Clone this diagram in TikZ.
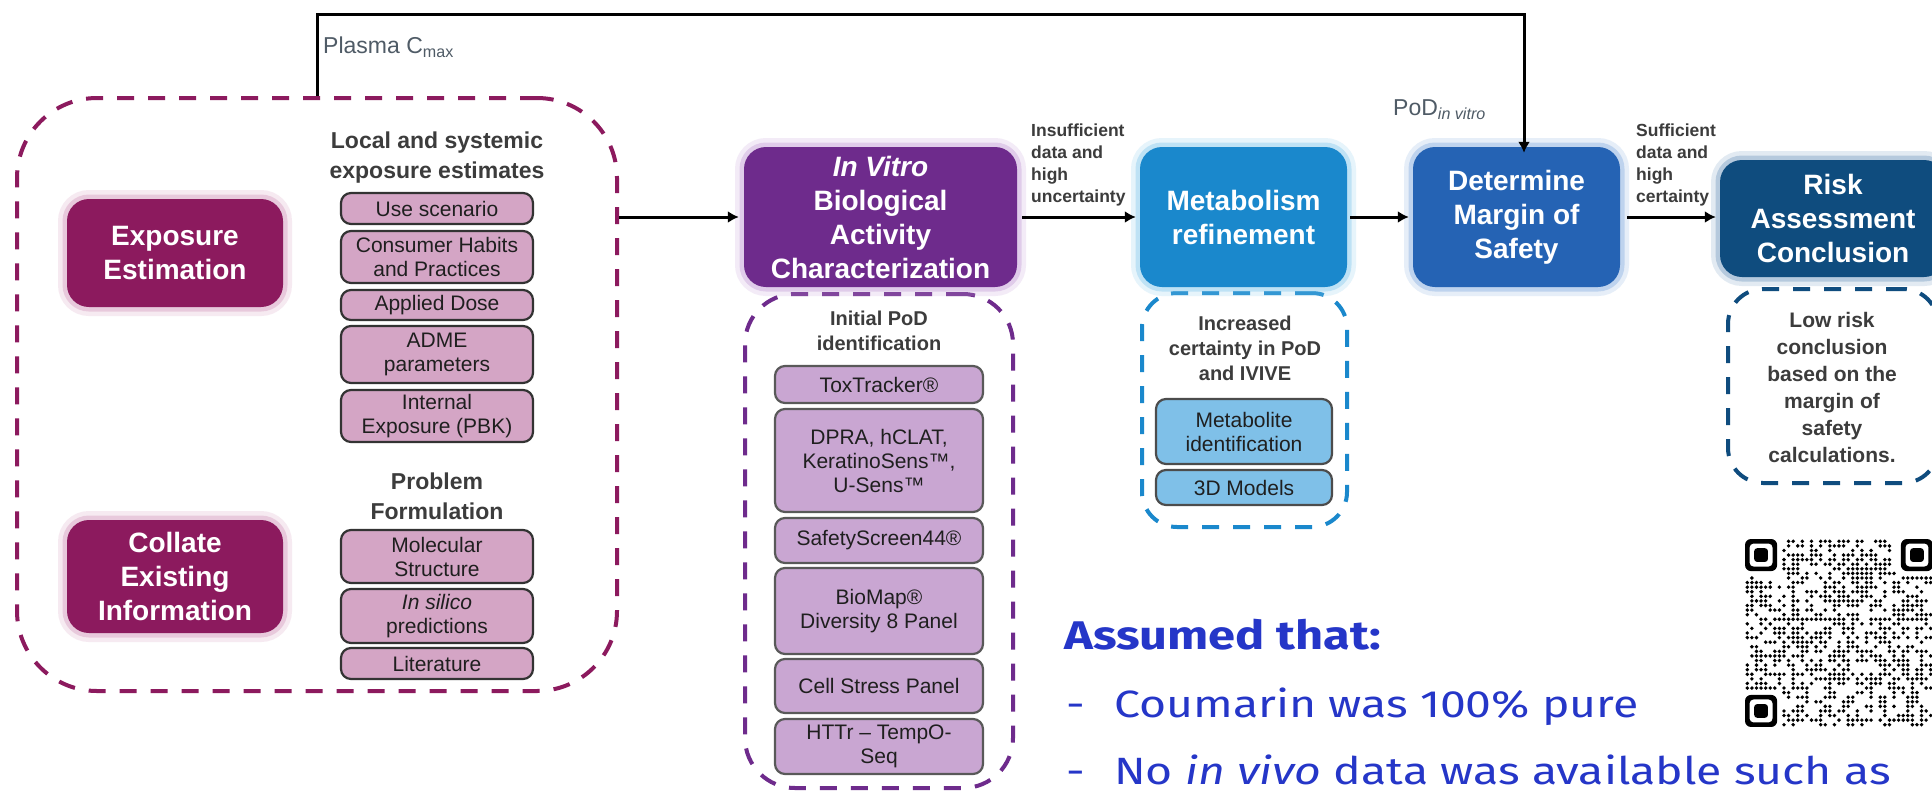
\documentclass[tikz,border=0pt]{standalone}
\usepackage{fontspec}
\setmainfont{Liberation Sans}
\newfontfamily\asf[FakeStretch=1.22]{Fira Sans}
\usetikzlibrary{arrows.meta}
\definecolor{expc}{HTML}{8C1A5E}
\definecolor{expg}{HTML}{D9A3C3}
\definecolor{pinkf}{HTML}{D4A5C5}
\definecolor{vitc}{HTML}{6E2B8C}
\definecolor{vitg}{HTML}{C9A8DB}
\definecolor{lavf}{HTML}{C9A6D2}
\definecolor{metc}{HTML}{1A88CC}
\definecolor{metg}{HTML}{8FCDEE}
\definecolor{metf}{HTML}{7FC0E8}
\definecolor{detc}{HTML}{2563B4}
\definecolor{detg}{HTML}{8FB4E3}
\definecolor{riskc}{HTML}{0F4C7E}
\definecolor{riskg}{HTML}{7FA3C4}
\definecolor{hdr}{HTML}{3C3C3C}
\definecolor{lbl}{HTML}{4F5B66}
\definecolor{asb}{HTML}{2536C8}
\begin{document}
\begin{tikzpicture}[x=1pt,y=-1pt,
  mbox/.style 2 args={rounded corners=22pt, fill=#1, text=white, align=center, inner sep=0pt,
    font=\bfseries\fontsize{28}{34}\selectfont,
    preaction={draw=#2, line width=18pt, opacity=0.22},
    preaction={draw=#2, line width=9pt, opacity=0.45}},
  subbox/.style={rounded corners=10pt, line width=2.2pt, align=center, inner sep=0pt,
    text=black!88, font=\fontsize{21}{24}\selectfont},
  subL/.style={subbox, draw=black!80, fill=pinkf, minimum width=192pt},
  subV/.style={subbox, draw=black!65, fill=lavf, minimum width=208pt},
  subM/.style={subbox, draw=black!70, fill=metf, minimum width=176pt},
  grp/.style={draw=#1, line width=4pt, dash pattern=on 17pt off 14pt, inner sep=0pt},
  hdrtxt/.style={text=hdr, align=center, inner sep=0pt, font=\bfseries\fontsize{23}{30}\selectfont},
  cond/.style={text=hdr, align=left, anchor=west, inner sep=0pt, font=\bfseries\fontsize{17.5}{22}\selectfont},
  note/.style={text=hdr, align=center, inner sep=0pt, font=\bfseries\fontsize{20}{25}\selectfont},
  flow/.style={text=lbl, anchor=west, inner sep=0pt, font=\fontsize{23}{27}\selectfont},
  conn/.style={line width=3pt, -{Latex[length=11pt,width=12pt]}},
  astxt/.style={text=asb, anchor=base west, inner sep=0pt, font=\asf\fontsize{38}{44}\selectfont}
]
\useasboundingbox (0,0) rectangle (1932,793);
\clip (0,0) rectangle (1932,793);
\fill[white] (0,0) rectangle (1932,793);

% ---------- group containers
\node[grp=expc, rounded corners=80pt, minimum width=600pt, minimum height=593pt] (leftgrp) at (317,394.5) {};
\node[grp=vitc, rounded corners=50pt, minimum width=268pt, minimum height=494pt] (vitgrp) at (879,541) {};
\node[grp=metc, rounded corners=35pt, minimum width=205pt, minimum height=234pt] (metgrp) at (1244.5,410) {};
\node[grp=riskc, rounded corners=35pt, minimum width=210pt, minimum height=194pt] (riskgrp) at (1833,386) {};

% ---------- main boxes
\node[mbox={expc}{expg}, minimum width=216pt, minimum height=108pt] (expo) at (175,253) {Exposure\\Estimation};
\node[mbox={expc}{expg}, minimum width=216pt, minimum height=113pt] (coll) at (175,576.5) {Collate\\Existing\\Information};
\node[mbox={vitc}{vitg}, minimum width=273pt, minimum height=140pt] (vitro) at (880.5,217) {\textit{In Vitro}\\Biological\\Activity\\Characterization};
\node[mbox={metc}{metg}, minimum width=207pt, minimum height=140pt] (metab) at (1243.5,217) {Metabolism\\refinement};
\node[mbox={detc}{detg}, minimum width=207pt, minimum height=140pt] (det) at (1516.5,217) {Determine\\Margin of\\Safety};
\node[mbox={riskc}{riskg}, minimum width=226pt, minimum height=117pt] (risk) at (1833,218.5) {Risk\\Assessment\\Conclusion};

% ---------- left group contents
\node[hdrtxt] (h1) at (437,158) {Local and systemic\\exposure estimates};
\node[subL, minimum height=31pt] (use) at (437,208.5) {Use scenario};
\node[subL, minimum height=52pt] (cons) at (437,257) {Consumer Habits\\and Practices};
\node[subL, minimum height=30pt] (dose) at (437,305) {Applied Dose};
\node[subL, minimum height=57pt] (adme) at (437,354.5) {ADME\\parameters};
\node[subL, minimum height=52pt] (pbk) at (437,416) {Internal\\Exposure (PBK)};
\node[hdrtxt] (h2) at (437,496.5) {Problem\\Formulation};
\node[subL, minimum height=53pt] (mol) at (437,556.5) {Molecular\\Structure};
\node[subL, minimum height=54pt] (sil) at (437,616) {\textit{In silico}\\predictions};
\node[subL, minimum height=31pt] (lit) at (437,663.5) {Literature};

% ---------- in vitro group contents
\node[note] (h3) at (879,330.5) {Initial PoD\\identification};
\node[subV, minimum height=37pt] (tox) at (879,384.5) {ToxTracker®};
\node[subV, minimum height=103pt] (dpra) at (879,460.5) {DPRA, hCLAT,\\KeratinoSens™,\\U-Sens™};
\node[subV, minimum height=45pt] (ss) at (879,540.5) {SafetyScreen44®};
\node[subV, minimum height=86pt] (bio) at (879,611) {BioMap®\\Diversity 8 Panel};
\node[subV, minimum height=54pt] (cell) at (879,686) {Cell Stress Panel};
\node[subV, minimum height=55pt] (httr) at (879,746.5) {HTTr – TempO-\\Seq};

% ---------- metabolism group contents
\node[note] (h4) at (1245,348) {Increased\\certainty in PoD\\and IVIVE};
\node[subM, minimum height=65pt] (metid) at (1244,431.5) {Metabolite\\identification};
\node[subM, minimum height=35pt] (td) at (1244,487.5) {3D Models};

% ---------- risk group contents
\node[note, font=\bfseries\fontsize{21}{27}\selectfont] (h5) at (1832,387.5) {Low risk\\conclusion\\based on the\\margin of\\safety\\calculations.};

% ---------- connectors
\coordinate (ptop) at (1524,14);
\draw[conn] (leftgrp.north) |- (ptop) -- ([yshift=-6pt]ptop |- det.north);
\draw[conn, shorten >=5pt] (leftgrp.east |- vitro.west) -- (vitro.west);
\draw[conn, shorten <=5pt, shorten >=4pt] (vitro.east) -- (metab.west);
\draw[conn, shorten <=3pt, shorten >=4pt] (metab.east) -- (det.west);
\draw[conn, shorten <=7pt, shorten >=4pt] (det.east) -- (det.east -| risk.west);

% ---------- connector labels
\node[flow] (plasma) at (323,47) {Plasma C\textsubscript{max}};
\node[flow] (podiv) at (1393,110) {PoD\textsubscript{\itshape in vitro}};
\node[cond] (insuf) at (1031,165) {Insufficient\\data and\\high\\uncertainty};
\node[cond] (suff) at (1636,165) {Sufficient\\data and\\high\\certainty};

% ---------- assumptions
\node[astxt, font=\asf\bfseries\fontsize{40}{44}\selectfont] (as0) at (1064,649) {Assumed that:};
\node[astxt] (as1d) at (1066,717) {-};
\node[astxt] (as1) at (1114,717) {Coumarin was 100\% pure};
\node[astxt] (as2d) at (1066,784) {-};
\node[astxt] (as2) at (1114,784) {No \textit{in vivo} data was available such as};

% ---------- QR code (approximate)
\begin{scope}[shift={(1745,539)}]
  \def\m{4.585}
  \foreach \fx/\fy in {0/0,34/0,0/34}{
    \fill[black, rounded corners=6pt] (\fx*\m,\fy*\m) rectangle ++(7*\m,7*\m);
    \fill[white, rounded corners=4pt] (\fx*\m+\m,\fy*\m+\m) rectangle ++(5*\m,5*\m);
    \fill[black, rounded corners=3pt] (\fx*\m+2*\m,\fy*\m+2*\m) rectangle ++(3*\m,3*\m);
  }
  \pgfmathsetseed{4711}
  \foreach \i in {0,...,40}{
    \foreach \j in {0,...,40}{
      \pgfmathrandominteger{\qr}{0}{1}
      \pgfmathtruncatemacro\qs{((\i<8)&&(\j<8))||((\i>32)&&(\j<8))||((\i<8)&&(\j>32)) ? 1 : 0}
      \ifnum\qs=0 \ifnum\qr=1
        \fill[black] (\i*\m+0.5*\m,\j*\m+0.5*\m) circle (0.42*\m);
      \fi\fi
    }
  }
\end{scope}
\end{tikzpicture}
\end{document}
